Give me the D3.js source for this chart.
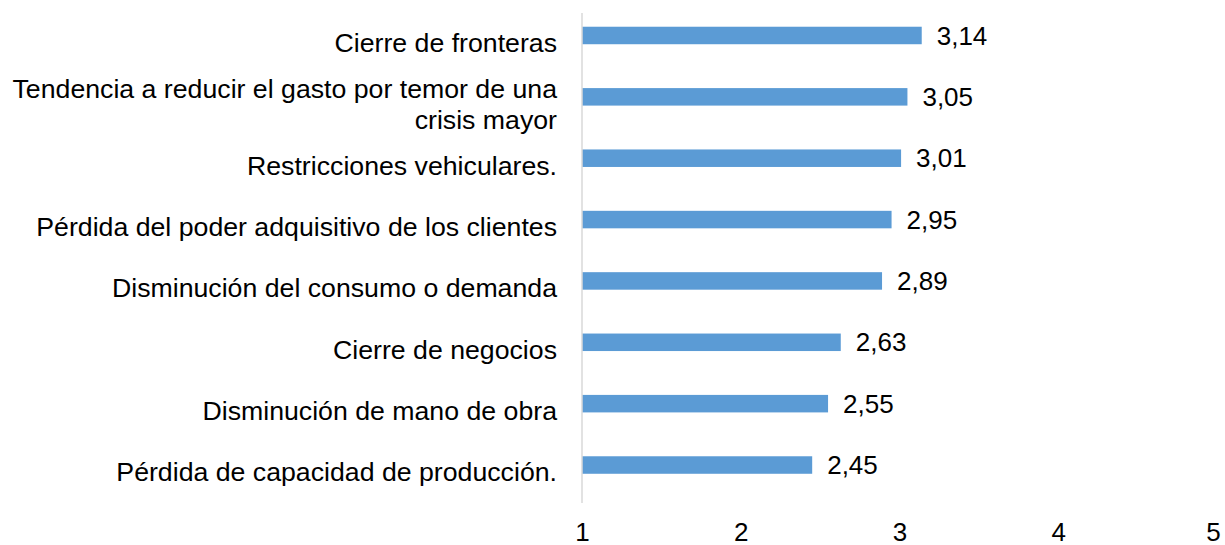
<!DOCTYPE html>
<html>
<head>
<meta charset="utf-8">
<script src="https://cdn.jsdelivr.net/npm/d3@7"></script>
<style>
  body { margin: 0; background: #fff; }
  svg { display: block; font-family: Arial, "Liberation Sans", sans-serif; }
</style>
</head>
<body>
<div id="chart"></div>
<script>
// data, top to bottom
var categories = [
  "Cierre de fronteras",
  "Tendencia a reducir el gasto por temor de una|crisis mayor",
  "Restricciones vehiculares.",
  "Pérdida del poder adquisitivo de los clientes",
  "Disminución del consumo o demanda",
  "Cierre de negocios",
  "Disminución de mano de obra",
  "Pérdida de capacidad de producción."
];
var values = [3.14, 3.05, 3.01, 2.95, 2.89, 2.63, 2.55, 2.45];
var tickValues = [1, 2, 3, 4, 5];

var W = 1225, H = 545;
var svg = d3.select("#chart").append("svg")
    .attr("width", W)
    .attr("height", H);

var x = d3.scaleLinear().domain([1, 5]).range([582, 1217]);
var y = d3.scaleBand().domain(categories).range([11.8, 502.7]);

var barH = 17.5, barShift = -7; // bars sit a little above the label centre

var data = categories.map(function(c, i){ return {cat: c, value: values[i]}; });

// bars
svg.append("g").selectAll("rect")
    .data(data)
    .enter().append("rect")
    .attr("x", x(1))
    .attr("y", function(d){ return y(d.cat) + y.bandwidth()/2 + barShift - barH/2; })
    .attr("width", function(d){ return x(d.value) - x(1); })
    .attr("height", barH)
    .attr("fill", "#5b9bd5");

// vertical axis line
svg.append("line")
    .attr("x1", x(1)).attr("x2", x(1))
    .attr("y1", 13).attr("y2", 503)
    .attr("stroke", "#d9d9d9")
    .attr("stroke-width", 1.5);

// category labels
var labels = svg.append("g").selectAll("text")
    .data(data)
    .enter().append("text")
    .attr("text-anchor", "end")
    .attr("font-size", 26.7)
    .attr("fill", "#000");

labels.each(function(d){
    var lines = d.cat.split("|");
    var cy = y(d.cat) + y.bandwidth()/2;
    var lh = 31;
    var t = d3.select(this);
    lines.forEach(function(l, i){
        t.append("tspan")
            .attr("x", 557)
            .attr("y", cy + (i - (lines.length-1)/2) * lh)
            .attr("dy", "0.35em")
            .text(l);
    });
});

// value labels
svg.append("g").selectAll("text")
    .data(data)
    .enter().append("text")
    .attr("x", function(d){ return x(d.value) + 15; })
    .attr("y", function(d){ return y(d.cat) + y.bandwidth()/2 + barShift; })
    .attr("dy", "0.35em")
    .attr("font-size", 26)
    .attr("fill", "#000")
    .text(function(d){ return d3.format(".2f")(d.value).replace(".", ","); });

// x axis labels
var xAxis = d3.axisBottom(x).tickValues(tickValues).tickSize(0).tickFormat(d3.format("d"));
var gx = svg.append("g")
    .attr("transform", "translate(0,518)")
    .call(xAxis);
gx.select(".domain").remove();
gx.selectAll("text")
    .attr("font-size", 26)
    .attr("font-family", "Arial, 'Liberation Sans', sans-serif")
    .attr("fill", "#000")
    .attr("dy", "0.71em")
    .attr("y", 5);
// last label is pulled in a little so it stays inside the frame
gx.selectAll(".tick").filter(function(d){ return d === 5; })
    .select("text").attr("x", -4);
</script>
</body>
</html>
